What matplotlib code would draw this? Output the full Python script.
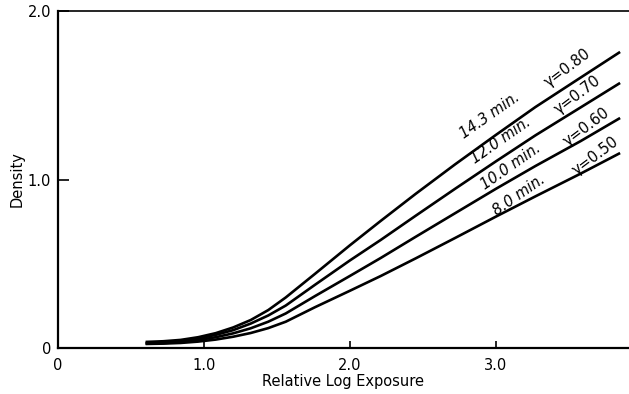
import matplotlib
matplotlib.use("Agg")
import matplotlib.pyplot as plt

# ---- data ----
curve_labels = ["14.3 min.", "12.0 min.", "10.0 min.", "8.0 min."]
gamma_labels = ["γ=0.80", "γ=0.70", "γ=0.60", "γ=0.50"]

log_exposure = [0.60, 0.72, 0.84, 0.96, 1.08, 1.20, 1.32, 1.44, 1.56,
                1.76, 2.00, 2.21, 2.45, 2.72, 3.00, 3.27, 3.58, 3.85]

density_143 = [0.036, 0.040, 0.048, 0.064, 0.088, 0.122, 0.166, 0.225, 0.300,
               0.440, 0.610, 0.754, 0.915, 1.090, 1.265, 1.430, 1.605, 1.757]
density_120 = [0.030, 0.034, 0.042, 0.056, 0.078, 0.106, 0.145, 0.193, 0.252,
               0.375, 0.520, 0.641, 0.785, 0.945, 1.108, 1.262, 1.428, 1.573]
density_100 = [0.026, 0.029, 0.036, 0.047, 0.064, 0.087, 0.117, 0.156, 0.205,
               0.308, 0.428, 0.534, 0.660, 0.800, 0.945, 1.080, 1.228, 1.365]
density_080 = [0.024, 0.026, 0.030, 0.038, 0.050, 0.067, 0.089, 0.118, 0.156,
               0.242, 0.340, 0.427, 0.532, 0.653, 0.780, 0.900, 1.035, 1.157]
densities = [density_143, density_120, density_100, density_080]

xticks = [0, 1.0, 2.0, 3.0]
xticklabels = ["0", "1.0", "2.0", "3.0"]
yticks = [0, 1.0, 2.0]
yticklabels = ["0", "1.0", "2.0"]

# label anchor positions (data coords)
label_pos = [(2.96, 1.38), (3.03, 1.23), (3.10, 1.08), (3.16, 0.91)]
gamma_pos = [(3.49, 1.66), (3.56, 1.50), (3.62, 1.31), (3.68, 1.14)]

plt.rcParams["font.family"] = ["DejaVu Sans"]

fig = plt.figure(figsize=(6.29, 3.94), dpi=100)
ax = fig.add_axes([58 / 629, (394 - 348) / 394, 1 - 58 / 629, (348 - 11) / 394])

for d in densities:
    ax.plot(log_exposure, d, color="black", lw=1.9, solid_capstyle="butt",
            solid_joinstyle="round")

for (x, y), t in zip(label_pos, curve_labels):
    ax.text(x, y, t, rotation=35, ha="center", va="center", fontsize=10.5,
            style="italic", color="black", rotation_mode="anchor")
for (x, y), t in zip(gamma_pos, gamma_labels):
    ax.text(x, y, t, rotation=37, ha="center", va="center", fontsize=10.5,
            color="black", rotation_mode="anchor")

ax.set_xlim(0, (629 - 58) / 146)
ax.set_ylim(0, 2.0)

ax.set_xticks(xticks, labels=xticklabels)
ax.set_yticks(yticks, labels=yticklabels)
ax.tick_params(axis="x", direction="in", length=5, width=1.2, labelsize=10.5, pad=7)
ax.tick_params(axis="y", direction="in", length=8, width=1.2, labelsize=10.5, pad=5)

ax.spines["right"].set_visible(False)
for s in ["left", "bottom"]:
    ax.spines[s].set_linewidth(1.6)
ax.spines["top"].set_linewidth(1.2)

ax.set_xlabel("Relative Log Exposure", fontsize=10.5, labelpad=1)
ax.set_ylabel("Density", fontsize=10.5, labelpad=2)

fig.savefig("out.png", dpi=100, facecolor="white")
